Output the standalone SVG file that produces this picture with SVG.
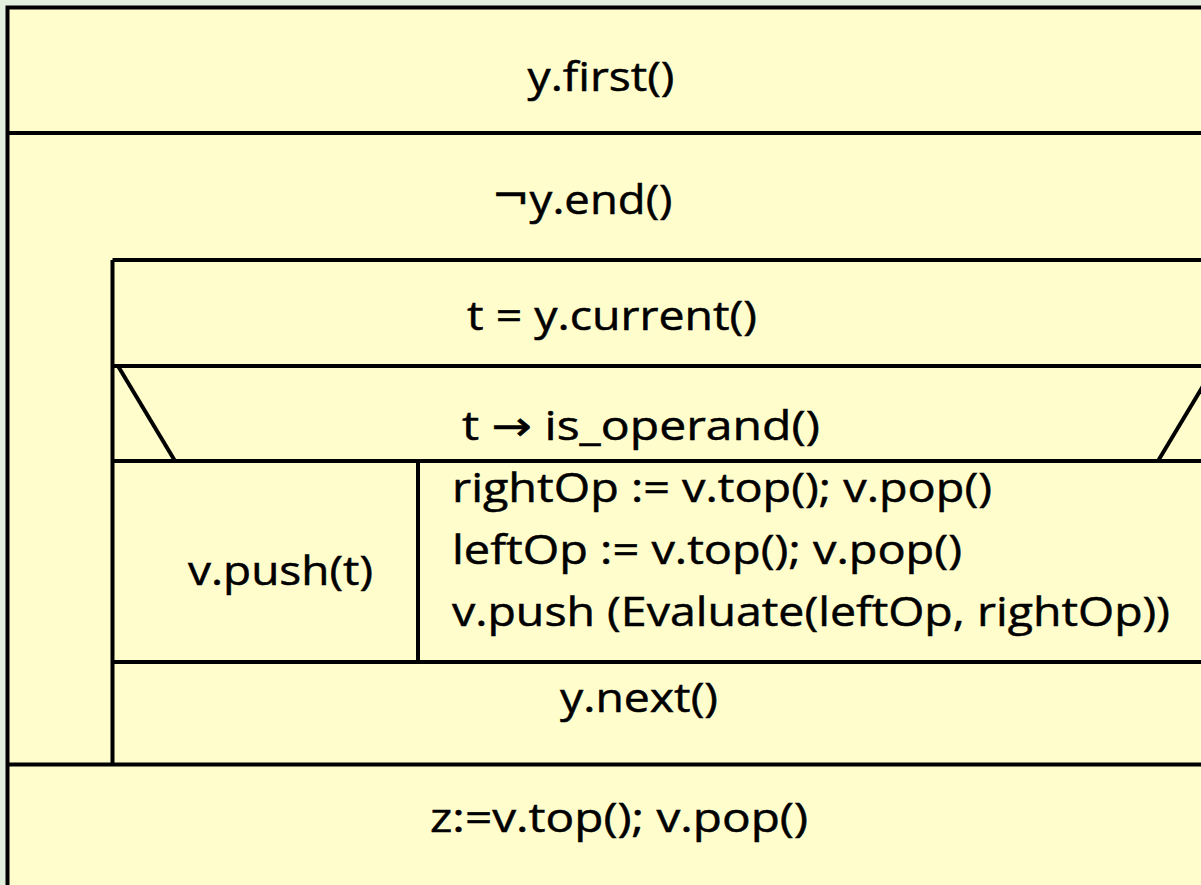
<svg xmlns="http://www.w3.org/2000/svg" width="1201" height="885" viewBox="0 0 1201 885">
  <style>
    .ln { stroke: #000; stroke-width: 4; fill: none; }
    .lbl { font-family: "Open Sans", "Noto Sans", "Liberation Sans", sans-serif; font-size: 41px; fill: #000; stroke: #000; stroke-width: 0.5; }
    .c { text-anchor: middle; }
    .sym { font-family: "DejaVu Sans", sans-serif; }
  </style>
  <!-- page -->
  <rect x="0" y="0" width="1201" height="885" fill="#E3EFDD"/>
  <rect x="7.5" y="7.5" width="1210" height="900" fill="#FFFDCC" stroke="#000" stroke-width="4"/>

  <g id="init">
    <text class="lbl c" x="601" y="91" textLength="147" lengthAdjust="spacingAndGlyphs">y.first()</text>
  </g>
  <line class="ln" x1="7.5" y1="133" x2="1210" y2="133"/>

  <g id="loop">
    <text class="lbl c" x="582" y="214" textLength="181" lengthAdjust="spacingAndGlyphs"><tspan class="sym" dy="-4">¬</tspan><tspan dy="4">y.end()</tspan></text>
    <line class="ln" x1="112.5" y1="260" x2="1210" y2="260"/>
    <line class="ln" x1="112.5" y1="260" x2="112.5" y2="764"/>
  </g>

  <g id="current">
    <text class="lbl c" x="612" y="330" textLength="290" lengthAdjust="spacingAndGlyphs">t = y.current()</text>
  </g>
  <line class="ln" x1="112.5" y1="366" x2="1210" y2="366"/>

  <g id="branch">
    <line class="ln" x1="118" y1="366" x2="175" y2="461"/>
    <line class="ln" x1="1158" y1="461" x2="1215" y2="366"/>
    <text class="lbl c" x="641" y="440" textLength="358" lengthAdjust="spacingAndGlyphs">t <tspan class="sym">→</tspan> is_operand()</text>
    <line class="ln" x1="112.5" y1="461" x2="1210" y2="461"/>
    <line class="ln" x1="418" y1="461" x2="418" y2="662"/>
  </g>

  <g id="then">
    <text class="lbl c" x="280.5" y="585" textLength="185" lengthAdjust="spacingAndGlyphs">v.push(t)</text>
  </g>

  <g id="else">
    <text class="lbl" x="452" y="502" textLength="540" lengthAdjust="spacingAndGlyphs">rightOp := v.top(); v.pop()</text>
    <text class="lbl" x="452" y="564" textLength="510" lengthAdjust="spacingAndGlyphs">leftOp := v.top(); v.pop()</text>
    <text class="lbl" x="452" y="626" textLength="718" lengthAdjust="spacingAndGlyphs">v.push (Evaluate(leftOp, rightOp))</text>
  </g>
  <line class="ln" x1="112.5" y1="662" x2="1210" y2="662"/>

  <g id="next">
    <text class="lbl c" x="639" y="712" textLength="158" lengthAdjust="spacingAndGlyphs">y.next()</text>
  </g>
  <line class="ln" x1="7.5" y1="764.5" x2="1210" y2="764.5"/>

  <g id="result">
    <text class="lbl c" x="619" y="832" textLength="378" lengthAdjust="spacingAndGlyphs">z:=v.top(); v.pop()</text>
  </g>
</svg>
